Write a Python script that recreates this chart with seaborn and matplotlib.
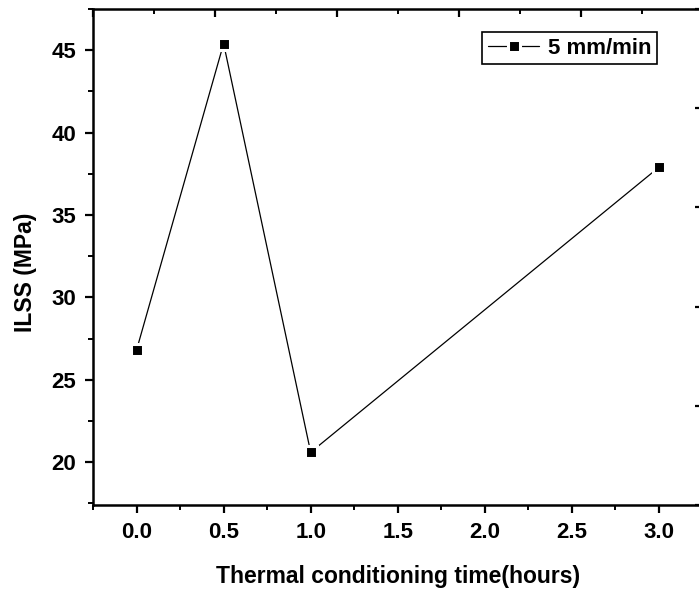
import matplotlib
matplotlib.use("Agg")
import matplotlib.pyplot as plt
from matplotlib.ticker import MultipleLocator, NullFormatter
import seaborn as sns
import pandas as pd

# Data
hours = [0.0, 0.5, 1.0, 3.0]
ilss = [26.8, 45.4, 20.6, 37.9]
series_label = "5 mm/min"
x_ticks = [0.0, 0.5, 1.0, 1.5, 2.0, 2.5, 3.0]
y_ticks = [20, 25, 30, 35, 40, 45]
x_label = "Thermal conditioning time(hours)"
y_label = "ILSS (MPa)"

sns.set_theme(style="white")
plt.rcParams['font.family'] = ['Liberation Sans', 'DejaVu Sans']
plt.rcParams['font.weight'] = 'bold'
plt.rcParams['text.color'] = 'black'
plt.rcParams['axes.labelcolor'] = 'black'
plt.rcParams['xtick.color'] = 'black'
plt.rcParams['ytick.color'] = 'black'
plt.rcParams['xtick.labelcolor'] = 'black'
plt.rcParams['ytick.labelcolor'] = 'black'

fig = plt.figure(figsize=(6.99, 5.94), dpi=100)
pos = [93/699, 89/594, (702.5-93)/699, (505-9)/594]
ax = fig.add_axes(pos)

df = pd.DataFrame({"hours": hours, "ilss": ilss})
sns.lineplot(data=df, x="hours", y="ilss", ax=ax, color="black", linewidth=0.9,
             marker="s", markersize=9.0, markerfacecolor="black",
             markeredgecolor="white", markeredgewidth=2.2, label=series_label)

ax.set_xlim(-0.25, 3.25)
ax.set_ylim(17.4, 47.5)
ax.set_xticks(x_ticks)
ax.set_xticklabels([f"{v:.1f}" for v in x_ticks])
ax.set_yticks(y_ticks)
ax.set_yticklabels([str(v) for v in y_ticks])
ax.xaxis.set_minor_locator(MultipleLocator(0.25))
ax.yaxis.set_minor_locator(MultipleLocator(2.5))
ax.tick_params(axis='both', which='both', bottom=True, left=True, top=False, right=False)
ax.tick_params(axis='both', which='major', direction='out', length=6, width=1.6,
               labelsize=16, color='black', labelcolor='black', pad=6)
ax.tick_params(axis='both', which='minor', direction='out', length=3.5, width=1.4, color='black')
for lab in ax.get_xticklabels() + ax.get_yticklabels():
    lab.set_fontweight('bold')

for s in ax.spines.values():
    s.set_linewidth(1.8)
    s.set_color('black')

ax.set_xlabel(x_label, fontsize=16.5, fontweight='bold', labelpad=16, color='black')
ax.set_ylabel(y_label, fontsize=16.5, fontweight='bold', color='black')
ax.yaxis.set_label_coords(-0.092, 0.47)

leg = ax.legend(loc='upper right', bbox_to_anchor=(657/699, 1 - 32/594),
                bbox_transform=fig.transFigure, borderaxespad=0,
                fancybox=False, framealpha=1, edgecolor='black',
                prop={'weight': 'bold', 'size': 16}, handlelength=2.3,
                handletextpad=0.4, borderpad=0.25)
leg.get_frame().set_linewidth(1.2)
for t in leg.get_texts():
    t.set_color('black')

# secondary (top/right) axis ticks
ax2 = fig.add_axes(pos, frameon=False)
ax2.set_xlim(0, 5)
ax2.set_ylim(0, 5)
ax2.xaxis.set_major_locator(MultipleLocator(1))
ax2.xaxis.set_minor_locator(MultipleLocator(0.5))
ax2.yaxis.set_major_locator(MultipleLocator(1))
ax2.xaxis.tick_top()
ax2.yaxis.tick_right()
ax2.xaxis.set_major_formatter(NullFormatter())
ax2.yaxis.set_major_formatter(NullFormatter())
ax2.tick_params(axis='x', which='both', top=True, bottom=False)
ax2.tick_params(axis='y', which='both', right=True, left=False)
ax2.tick_params(axis='both', which='major', direction='in', length=6, width=1.6, color='black')
ax2.tick_params(axis='both', which='minor', direction='in', length=3.5, width=1.4, color='black')
ax2.patch.set_visible(False)
ax2.grid(False)

fig.savefig("out.png", dpi=100)
